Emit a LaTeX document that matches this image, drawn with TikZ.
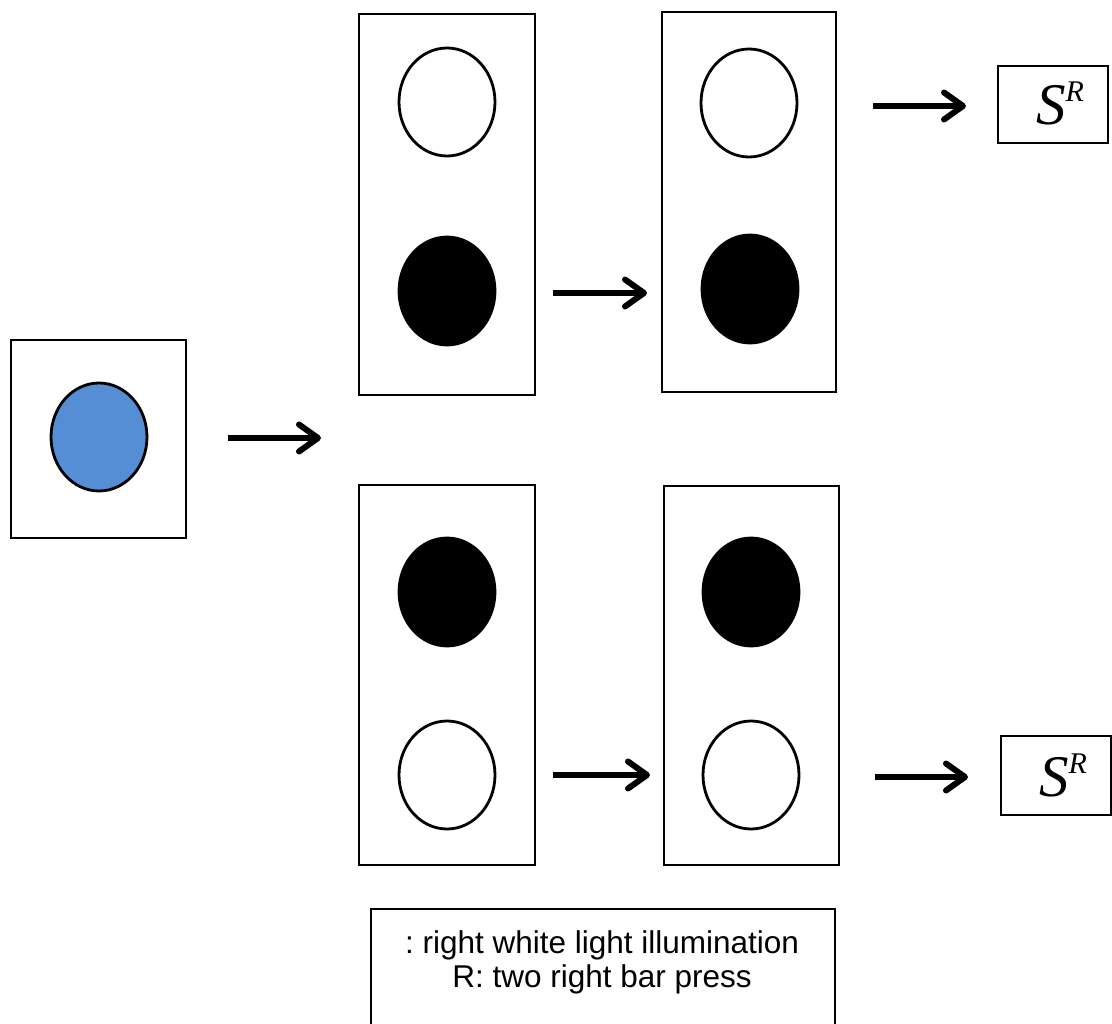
\documentclass[tikz,border=0pt]{standalone}
\usepackage{fontspec}
\setmainfont{Liberation Serif}
\newfontfamily\arialfont{Liberation Sans}
\usetikzlibrary{shapes.geometric,arrows.meta}
\definecolor{lampblue}{RGB}{85,142,213}
\tikzset{
  frame/.style={draw=black,line width=1.8pt,fill=white},
  lamp/.style={ellipse,draw=black,line width=2.8pt,minimum width=96pt,minimum height=108pt,inner sep=0pt},
  onlamp/.style={lamp,fill=black},
  offlamp/.style={lamp,fill=white},
  bluelamp/.style={lamp,fill=lampblue},
  bigarrow/.style={line width=6pt,-{Straight Barb[length=19pt,width=27pt,line width=6pt,round]}},
  srbox/.style={draw=black,line width=1.4pt,fill=white},
  srlabel/.style={anchor=base,inner sep=0pt},
  legendtext/.style={anchor=base,font=\arialfont\fontsize{31.5}{34}\selectfont,inner sep=0pt},
}
\newcommand{\srtext}{\fontsize{59}{60}\selectfont\itshape S\raisebox{23pt}{\fontsize{30}{30}\selectfont\itshape R}}
\begin{document}
\frenchspacing
\begin{tikzpicture}[x=1pt,y=-1pt]
\useasboundingbox (0,0) rectangle (1112,1024);
% left box
\draw[frame] (11,340) rectangle (186,538);
\node[bluelamp] (blue) at (99,437) {};
% top column boxes
\draw[frame] (359,14) rectangle (535,395);
\node[offlamp] (t1w) at (447,102) {};
\node[onlamp] (t1b) at (447,291) {};
\draw[frame] (662,12) rectangle (836,392);
\node[offlamp] (t2w) at (749,103) {};
\node[onlamp] (t2b) at (750,289) {};
% bottom column boxes
\draw[frame] (359,485) rectangle (535,865);
\node[onlamp] (b1b) at (447,592) {};
\node[offlamp] (b1w) at (447,775) {};
\draw[frame] (664,486) rectangle (839,865);
\node[onlamp] (b2b) at (751,592) {};
\node[offlamp] (b2w) at (751,775) {};
% reinforcer boxes
\draw[srbox] (998,66) rectangle (1108,143);
\node[srlabel] (sr1) at (1060,125) {\srtext};
\draw[srbox] (1001,736) rectangle (1111,815);
\node[srlabel] (sr2) at (1063,796) {\srtext};
% arrow coordinates
\coordinate (a1s) at (228,438); \coordinate (a1e) at (321,438);
\coordinate (a2s) at (553,293); \coordinate (a2e) at (647,293);
\coordinate (a3s) at (873,106); \coordinate (a3e) at (966,106);
\coordinate (a4s) at (553,775); \coordinate (a4e) at (650,775);
\coordinate (a5s) at (875,777); \coordinate (a5e) at (968,777);
\draw[bigarrow] (a1s) -- (a1e);
\draw[bigarrow] (a2s) -- (a2e);
\draw[bigarrow] (a3s) -- (a3e);
\draw[bigarrow] (a4s) -- (a4e);
\draw[bigarrow] (a5s) -- (a5e);
% legend
\draw[draw=black,line width=1.4pt] (371,909) rectangle (835,1040);
\node[legendtext] (leg1) at (602,953) {: right white light illumination};
\node[legendtext] (leg2) at (602,987) {R: two right bar press};
\end{tikzpicture}
\end{document}
